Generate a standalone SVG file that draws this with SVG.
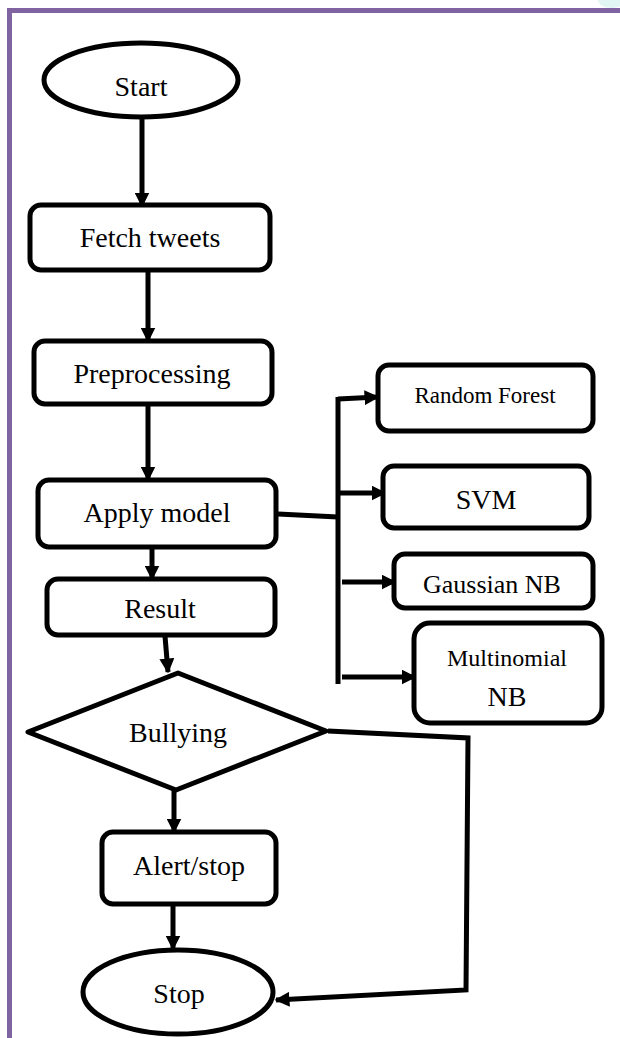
<svg xmlns="http://www.w3.org/2000/svg" width="620" height="1038" viewBox="0 0 620 1038">
<defs>
<style>
.n{fill:#fff;stroke:#000;stroke-width:5;stroke-linejoin:round}
.t{font-family:"Liberation Serif","Times New Roman",serif;font-size:28px;fill:#000;text-anchor:middle}
.c{fill:none;stroke:#000;stroke-width:5;stroke-linejoin:miter}
.a{marker-end:url(#ah)}
</style>
<marker id="ah" viewBox="0 0 10 10" refX="9" refY="5" markerWidth="3" markerHeight="3" markerUnits="strokeWidth" orient="auto">
<path d="M0,0 L10,5 L0,10 z" fill="#000"/>
</marker>
<clipPath id="startclip"><rect x="0" y="0" width="620" height="96"/></clipPath>
</defs>
<rect width="620" height="1038" fill="#fff"/>
<ellipse cx="612" cy="0" rx="14" ry="8" fill="#e2f6f4"/>
<g id="frame">
<line x1="7" y1="10.5" x2="620" y2="10.5" stroke="#8064a2" stroke-width="5"/>
<line x1="9.5" y1="8" x2="9.5" y2="1038" stroke="#8064a2" stroke-width="5"/>
</g>
<g id="connectors">
<line class="c a" x1="142" y1="118" x2="142" y2="206"/>
<line class="c a" x1="148" y1="268" x2="148" y2="341"/>
<line class="c a" x1="148" y1="404" x2="148" y2="480"/>
<line class="c a" x1="152" y1="548" x2="152" y2="579"/>
<line class="c a" x1="165" y1="636" x2="168" y2="672"/>
<line class="c a" x1="174" y1="790" x2="174" y2="832"/>
<line class="c a" x1="173" y1="905" x2="173" y2="949"/>
<polyline class="c a" points="328,731 468,738 466,990 276,1000"/>
<polyline class="c" points="278,514 338,517"/>
<line class="c" x1="338" y1="397" x2="338" y2="684"/>
<line class="c a" x1="338" y1="399" x2="378" y2="397"/>
<line class="c a" x1="338" y1="493" x2="385" y2="493"/>
<line class="c a" x1="342" y1="582" x2="395" y2="582"/>
<line class="c a" x1="342" y1="677" x2="415" y2="677"/>
</g>
<g id="start">
<ellipse class="n" cx="141" cy="80" rx="97" ry="37"/>
<text class="t" x="141" y="96" clip-path="url(#startclip)">Start</text>
</g>
<g id="fetch">
<rect class="n" x="30" y="205" width="240" height="65" rx="11"/>
<text class="t" x="150" y="247">Fetch tweets</text>
</g>
<g id="preprocessing">
<rect class="n" x="34" y="341" width="238" height="63" rx="11"/>
<text class="t" x="152" y="383">Preprocessing</text>
</g>
<g id="apply">
<rect class="n" x="38" y="480" width="238" height="67" rx="11"/>
<text class="t" x="157" y="522">Apply model</text>
</g>
<g id="result">
<rect class="n" x="47" y="579" width="228" height="56" rx="11"/>
<text class="t" x="160" y="618">Result</text>
</g>
<g id="bullying">
<polygon class="n" points="178,673 326,731 176,790 28,732"/>
<text class="t" x="178" y="742">Bullying</text>
</g>
<g id="alert">
<rect class="n" x="102" y="832" width="174" height="72" rx="11"/>
<text class="t" x="189" y="875">Alert/stop</text>
</g>
<g id="stop">
<ellipse class="n" cx="178" cy="992" rx="95" ry="42"/>
<text class="t" x="179" y="1003">Stop</text>
</g>
<g id="rf">
<rect class="n" x="378" y="365" width="215" height="66" rx="11"/>
<text class="t" x="485" y="403" style="font-size:23px">Random Forest</text>
</g>
<g id="svm">
<rect class="n" x="383" y="466" width="206" height="62" rx="11"/>
<text class="t" x="486" y="509">SVM</text>
</g>
<g id="gnb">
<rect class="n" x="394" y="554" width="199" height="54" rx="11"/>
<text class="t" x="492" y="593" style="font-size:26px">Gaussian NB</text>
</g>
<g id="mnb">
<rect class="n" x="414" y="623" width="188" height="100" rx="16"/>
<text class="t" x="507" y="666" style="font-size:24px">Multinomial</text>
<text class="t" x="507" y="706">NB</text>
</g>
</svg>
